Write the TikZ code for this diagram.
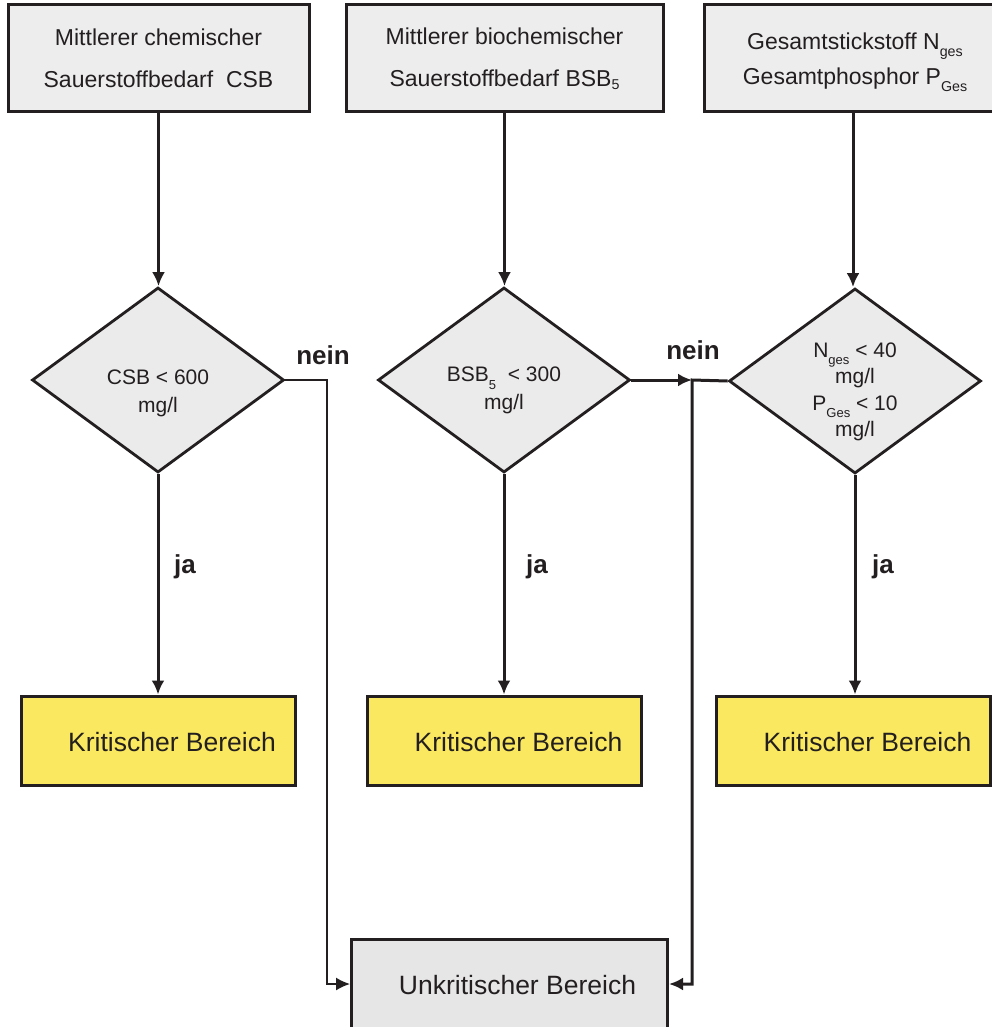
\documentclass[tikz,border=0pt]{standalone}
\usepackage{fontspec}
\setmainfont{Liberation Sans}
\usepackage{graphicx}
\usepackage{tikz}
\usetikzlibrary{positioning,arrows.meta,shapes.geometric,calc}
\definecolor{ink}{HTML}{231F20}
\definecolor{boxgrey}{HTML}{EDEDED}
\definecolor{diagrey}{HTML}{EBEBEB}
\definecolor{critfill}{HTML}{F9E860}
\definecolor{okfill}{HTML}{E6E6E6}
\newcommand{\lowidx}[2][0.3em]{\raisebox{-#1}{\scalebox{0.62}{#2}}}
\newcommand{\tightlines}{\lineskiplimit -10pt\relax}

\begin{document}
\begin{tikzpicture}[x=1pt, y=-1pt, >={Latex[length=14pt,width=13pt]},
    inbox/.style={draw=ink, line width=3pt, fill=boxgrey, minimum height=107pt,
      inner sep=0pt, align=center, text=ink},
    decide/.style={diamond, draw=ink, line width=2.8pt, fill=diagrey,
      minimum width=252pt, minimum height=185pt, inner sep=0pt},
    critbox/.style={draw=ink, line width=3pt, fill=critfill,
      minimum width=274pt, minimum height=89pt, inner sep=0pt},
    txt/.style={text=ink, align=center},
    flow/.style={draw=ink, line width=3pt},
    thinflow/.style={draw=ink, line width=1.6pt},
    yesno/.style={text=ink, font=\fontsize{26}{30}\bfseries\selectfont}]
  \useasboundingbox (0,0) rectangle (992,1027);
  % top boxes
  \node[inbox, minimum width=301pt, font=\fontsize{23}{42}\selectfont] (tCSB) at (158.5,58.5)
    {Mittlerer chemischer\\Sauerstoffbedarf\ \ CSB};
  \node[inbox, minimum width=317pt, font=\fontsize{23}{42}\selectfont] (tBSB) at (504.5,58.5)
    {Mittlerer biochemischer\\Sauerstoffbedarf BSB\lowidx[0.12em]{5}};
  \node[inbox, minimum width=298pt] (tNP) at (853,58.5) {};
  \node[txt, font=\fontsize{23}{35}\selectfont] (tNPtxt) at ($(tNP.center)+(2,4)$)
    {Gesamtstickstoff N\lowidx{ges}\\Gesamtphosphor P\lowidx{Ges}};
  % decisions
  \node[decide] (dCSB) at (158,380) {};
  \node[decide] (dBSB) at (504,380) {};
  \node[decide] (dNP) at (855,381) {};
  \node[txt, font=\fontsize{21}{28}\selectfont] (xCSB) at ($(dCSB.center)+(0,13)$)
    {CSB < 600\\mg/l};
  \node[txt, font=\fontsize{21}{28}\selectfont] (xBSB) at ($(dBSB.center)+(0,10)$)
    {BSB\lowidx[0.4em]{5}\ \ < 300\\mg/l};
  \node[txt, font=\fontsize{21}{26.5}\selectfont\tightlines] (xNP) at ($(dNP.center)+(0,11)$)
    {N\lowidx[0.35em]{ges} < 40\\mg/l\\P\lowidx[0.35em]{Ges} < 10\\mg/l};
  % results
  \node[critbox] (kCSB) at (158,740.5) {};
  \node[critbox] (kBSB) at (504.5,740.5) {};
  \node[critbox] (kNP) at (853.5,740.5) {};
  \foreach \k in {kCSB,kBSB,kNP}
    \node[txt, font=\fontsize{26.5}{30}\selectfont] (\k txt) at ($(\k.center)+(14,2)$)
      {Kritischer Bereich};
  \node[draw=ink, line width=3pt, fill=okfill, minimum width=316pt, minimum height=90pt,
    inner sep=0pt] (unkrit) at (509.5,984) {};
  \node[txt, font=\fontsize{26.5}{30}\selectfont] (unkrittxt) at ($(unkrit.center)+(8,1)$)
    {Unkritischer Bereich};
  % connectors
  \draw[flow,->] (tCSB.south) -- (tCSB.south |- dCSB.north);
  \draw[flow,->] (tBSB.south) -- (tBSB.south |- dBSB.north);
  \draw[flow,->] (tNP.south) -- (tNP.south |- dNP.north);
  \draw[flow,->] (dCSB.south) -- (dCSB.south |- kCSB.north);
  \draw[flow,->] (dBSB.south) -- (dBSB.south |- kBSB.north);
  \draw[flow,->] (dNP.south) -- (dNP.south |- kNP.north);
  \coordinate (jL) at (327,380);
  \coordinate (jR) at (692,380);
  \draw[thinflow,->] (dCSB.east) -- (jL) |- (unkrit.west);
  \draw[flow,->] (dBSB.east) -- (jR);
  \draw[flow,->] (dNP.west) -- (jR) |- (unkrit.east);
  % labels
  \node[yesno] (neinL) at (323,355) {nein};
  \node[yesno] (neinR) at (693,350) {nein};
  \node[yesno] (jaCSB) at (185,567) {ja};
  \node[yesno] (jaBSB) at (537,567) {ja};
  \node[yesno] (jaNP) at (883,567) {ja};
\end{tikzpicture}
\end{document}
